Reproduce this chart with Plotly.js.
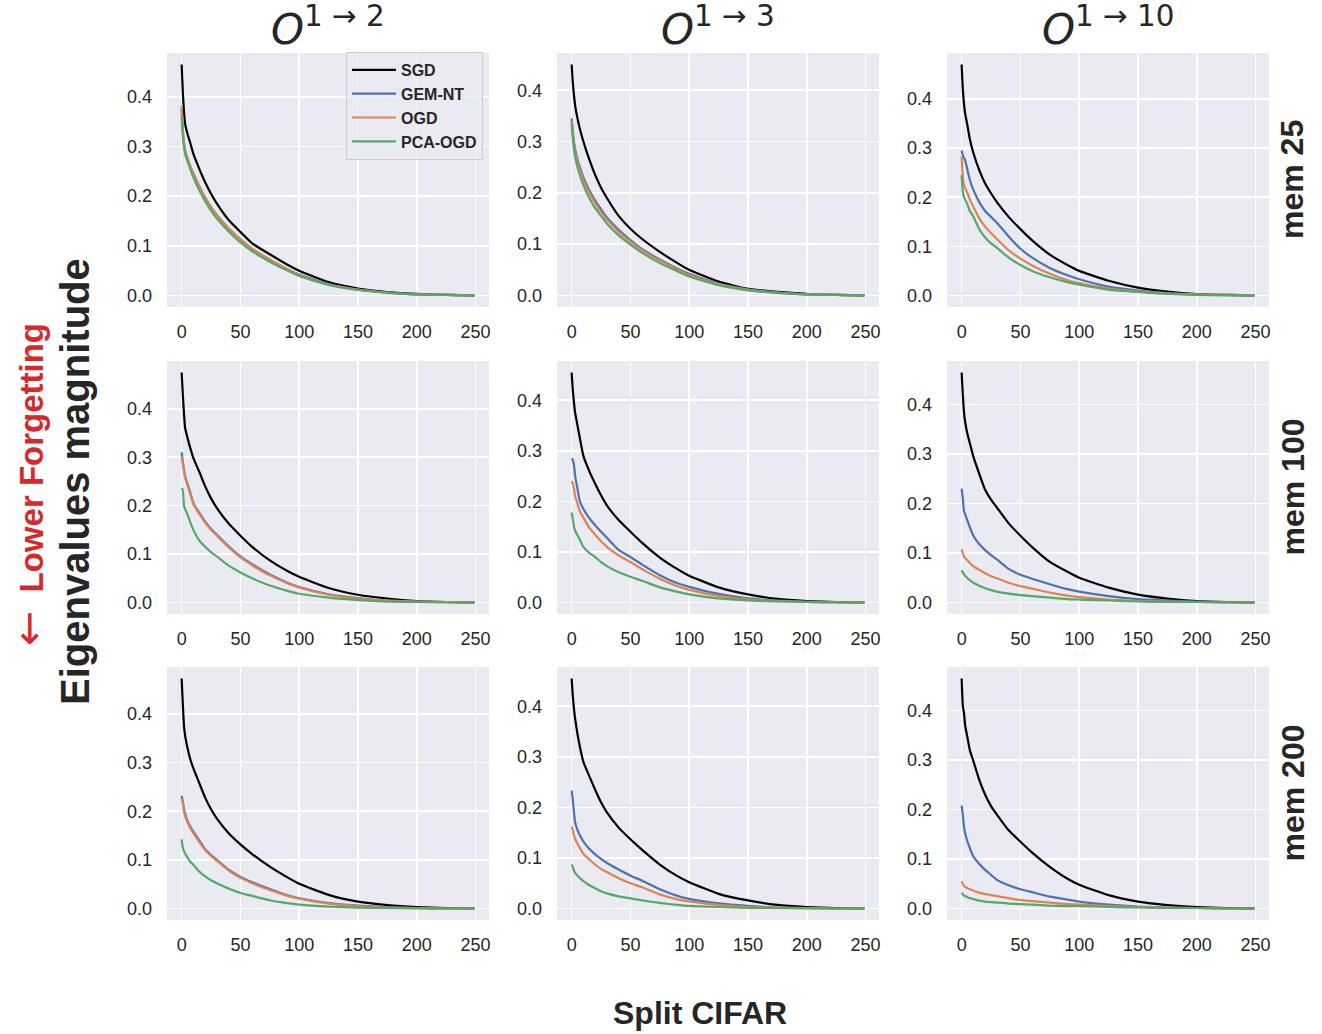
<!DOCTYPE html>
<html><head><meta charset="utf-8">
<script src="https://cdn.plot.ly/plotly-3.0.1.min.js"></script>
<style>body{margin:0;background:#fff}#chart{width:1322px;height:1034px}</style>
</head><body><div id="chart"></div>
<script>
// eigenvalue index
const X = [0,1,2,3,5,7,10,15,20,25,30,40,50,60,75,90,100,125,150,175,200,225,249];

// Row 1: mem 25
const sgd_r1c1 = [0.465,0.41,0.37,0.345,0.325,0.31,0.285,0.255,0.228,0.205,0.185,0.152,0.128,0.105,0.083,0.062,0.05,0.027,0.014,0.007,0.003,0.001,0];
const gem_r1c1 = [0.375,0.33,0.305,0.29,0.275,0.262,0.245,0.22,0.197,0.178,0.162,0.135,0.113,0.094,0.072,0.053,0.042,0.023,0.012,0.006,0.002,0.001,0];
const ogd_r1c1 = [0.382,0.335,0.308,0.292,0.277,0.263,0.245,0.22,0.197,0.178,0.162,0.135,0.113,0.094,0.072,0.053,0.041,0.022,0.012,0.006,0.002,0.001,0];
const pca_r1c1 = [0.36,0.32,0.3,0.285,0.27,0.257,0.238,0.212,0.19,0.171,0.155,0.129,0.107,0.089,0.068,0.05,0.039,0.021,0.011,0.005,0.002,0.001,0];

const sgd_r1c2 = [0.45,0.415,0.39,0.37,0.345,0.325,0.3,0.265,0.235,0.21,0.19,0.155,0.13,0.11,0.085,0.063,0.05,0.027,0.013,0.007,0.003,0.001,0];
const gem_r1c2 = [0.345,0.32,0.3,0.285,0.265,0.25,0.23,0.205,0.185,0.168,0.152,0.128,0.108,0.09,0.07,0.052,0.042,0.023,0.012,0.006,0.002,0.001,0];
const ogd_r1c2 = [0.34,0.315,0.295,0.28,0.26,0.245,0.225,0.2,0.18,0.163,0.148,0.124,0.105,0.088,0.068,0.05,0.04,0.022,0.011,0.005,0.002,0.001,0];
const pca_r1c2 = [0.335,0.305,0.285,0.27,0.25,0.235,0.215,0.19,0.17,0.155,0.14,0.117,0.099,0.083,0.063,0.047,0.037,0.02,0.01,0.005,0.002,0.001,0];

const sgd_r1c3 = [0.47,0.42,0.39,0.37,0.345,0.318,0.29,0.255,0.228,0.208,0.19,0.16,0.135,0.112,0.083,0.062,0.05,0.03,0.016,0.008,0.003,0.001,0];
const gem_r1c3 = [0.295,0.285,0.28,0.275,0.255,0.235,0.215,0.19,0.172,0.16,0.148,0.12,0.095,0.077,0.056,0.041,0.033,0.018,0.01,0.005,0.002,0.001,0];
const ogd_r1c3 = [0.283,0.24,0.225,0.218,0.208,0.195,0.18,0.157,0.14,0.127,0.115,0.092,0.075,0.061,0.044,0.031,0.025,0.014,0.008,0.004,0.002,0.001,0];
const pca_r1c3 = [0.245,0.21,0.2,0.195,0.185,0.172,0.16,0.135,0.118,0.106,0.097,0.077,0.062,0.05,0.037,0.027,0.022,0.012,0.007,0.003,0.001,0,0];

// Row 2: mem 100
const sgd_r2c1 = [0.475,0.43,0.39,0.36,0.34,0.322,0.298,0.27,0.24,0.215,0.195,0.163,0.138,0.115,0.087,0.065,0.053,0.03,0.016,0.008,0.003,0.001,0];
const gem_r2c1 = [0.31,0.29,0.275,0.26,0.245,0.23,0.205,0.185,0.167,0.152,0.14,0.116,0.095,0.079,0.058,0.041,0.032,0.017,0.009,0.004,0.002,0.001,0];
const ogd_r2c1 = [0.302,0.285,0.272,0.258,0.242,0.227,0.203,0.183,0.165,0.15,0.138,0.114,0.093,0.077,0.056,0.04,0.031,0.016,0.008,0.004,0.002,0.001,0];
const pca_r2c1 = [0.236,0.232,0.2,0.193,0.182,0.168,0.15,0.128,0.115,0.104,0.095,0.076,0.062,0.05,0.035,0.024,0.018,0.01,0.005,0.002,0.001,0,0];

const sgd_r2c2 = [0.455,0.42,0.395,0.375,0.35,0.325,0.29,0.26,0.235,0.212,0.192,0.163,0.14,0.118,0.089,0.066,0.053,0.03,0.016,0.007,0.003,0.001,0];
const gem_r2c2 = [0.285,0.282,0.272,0.25,0.225,0.2,0.185,0.167,0.153,0.14,0.128,0.104,0.09,0.075,0.054,0.038,0.031,0.017,0.008,0.004,0.002,0.001,0];
const ogd_r2c2 = [0.24,0.235,0.225,0.21,0.195,0.18,0.168,0.148,0.134,0.121,0.11,0.093,0.08,0.066,0.047,0.032,0.025,0.013,0.006,0.003,0.001,0,0];
const pca_r2c2 = [0.178,0.165,0.15,0.142,0.133,0.124,0.11,0.098,0.09,0.08,0.072,0.06,0.051,0.043,0.03,0.021,0.016,0.008,0.004,0.002,0.001,0,0];

const sgd_r2c3 = [0.465,0.42,0.385,0.365,0.34,0.322,0.295,0.26,0.228,0.208,0.192,0.16,0.135,0.112,0.082,0.062,0.05,0.03,0.016,0.008,0.003,0.001,0];
const gem_r2c3 = [0.23,0.21,0.185,0.178,0.165,0.152,0.135,0.118,0.106,0.096,0.087,0.068,0.056,0.048,0.037,0.027,0.022,0.013,0.007,0.004,0.002,0.001,0];
const ogd_r2c3 = [0.108,0.1,0.093,0.09,0.085,0.08,0.073,0.066,0.059,0.053,0.049,0.04,0.033,0.028,0.02,0.014,0.011,0.006,0.003,0.002,0.001,0,0];
const pca_r2c3 = [0.065,0.061,0.057,0.054,0.049,0.045,0.04,0.034,0.029,0.025,0.022,0.018,0.015,0.013,0.01,0.007,0.006,0.004,0.002,0.001,0.001,0,0];

// Row 3: mem 200
const sgd_r3c1 = [0.473,0.42,0.375,0.355,0.33,0.31,0.288,0.258,0.228,0.204,0.185,0.155,0.132,0.112,0.086,0.064,0.051,0.028,0.014,0.007,0.003,0.001,0];
const gem_r3c1 = [0.232,0.22,0.205,0.195,0.18,0.17,0.158,0.14,0.122,0.11,0.1,0.08,0.065,0.054,0.04,0.027,0.021,0.011,0.006,0.003,0.001,0,0];
const ogd_r3c1 = [0.226,0.215,0.2,0.19,0.177,0.167,0.155,0.137,0.12,0.108,0.098,0.078,0.063,0.052,0.038,0.026,0.02,0.01,0.005,0.002,0.001,0,0];
const pca_r3c1 = [0.142,0.125,0.118,0.113,0.105,0.097,0.09,0.076,0.066,0.058,0.052,0.041,0.032,0.026,0.017,0.011,0.008,0.004,0.002,0.001,0,0,0];

const sgd_r3c2 = [0.455,0.42,0.395,0.375,0.345,0.32,0.29,0.262,0.235,0.21,0.19,0.16,0.137,0.116,0.087,0.064,0.052,0.029,0.016,0.007,0.003,0.001,0];
const gem_r3c2 = [0.233,0.215,0.19,0.17,0.155,0.145,0.133,0.118,0.107,0.098,0.09,0.077,0.065,0.055,0.038,0.025,0.019,0.01,0.005,0.002,0.001,0,0];
const ogd_r3c2 = [0.162,0.155,0.145,0.138,0.128,0.12,0.108,0.097,0.087,0.078,0.072,0.06,0.05,0.042,0.028,0.018,0.014,0.007,0.003,0.002,0.001,0,0];
const pca_r3c2 = [0.087,0.082,0.075,0.07,0.065,0.06,0.054,0.046,0.04,0.034,0.03,0.024,0.02,0.016,0.011,0.007,0.005,0.003,0.001,0.001,0,0,0];

const sgd_r3c3 = [0.465,0.41,0.395,0.37,0.345,0.32,0.298,0.26,0.23,0.207,0.19,0.158,0.135,0.113,0.084,0.06,0.048,0.027,0.014,0.007,0.003,0.001,0];
const gem_r3c3 = [0.208,0.19,0.165,0.152,0.135,0.122,0.105,0.09,0.078,0.068,0.058,0.047,0.039,0.033,0.024,0.018,0.014,0.008,0.004,0.002,0.001,0,0];
const ogd_r3c3 = [0.055,0.05,0.046,0.044,0.041,0.039,0.036,0.032,0.029,0.027,0.025,0.021,0.017,0.015,0.012,0.009,0.008,0.005,0.003,0.002,0.001,0,0];
const pca_r3c3 = [0.032,0.029,0.026,0.025,0.023,0.021,0.019,0.016,0.014,0.013,0.012,0.01,0.009,0.008,0.006,0.005,0.005,0.003,0.002,0.001,0.001,0,0];

const seriesNames = ['SGD','GEM-NT','OGD','PCA-OGD'];
const seriesColors = ['#000000','#4c72b0','#dd8452','#55a868'];
const colSups = ['1 → 2','1 → 3','1 → 10'];
const rowTitles = ['mem 25','mem 100','mem 200'];
const xTicks = [0,50,100,150,200,250];
const yTicks = [0,0.1,0.2,0.3,0.4];

const panels = [
  [[sgd_r1c1,gem_r1c1,ogd_r1c1,pca_r1c1],[sgd_r1c2,gem_r1c2,ogd_r1c2,pca_r1c2],[sgd_r1c3,gem_r1c3,ogd_r1c3,pca_r1c3]],
  [[sgd_r2c1,gem_r2c1,ogd_r2c1,pca_r2c1],[sgd_r2c2,gem_r2c2,ogd_r2c2,pca_r2c2],[sgd_r2c3,gem_r2c3,ogd_r2c3,pca_r2c3]],
  [[sgd_r3c1,gem_r3c1,ogd_r3c1,pca_r3c1],[sgd_r3c2,gem_r3c2,ogd_r3c2,pca_r3c2],[sgd_r3c3,gem_r3c3,ogd_r3c3,pca_r3c3]]
];

const W = 1322, H = 1034;
const colL = [167,557,947], colR = [489,879,1269];
const rowT = [53,361,667], rowB = [307,614,920];
const FONT = 'Liberation Sans, Arial, sans-serif';
const TXT = '#262626';

const traces = [];
const layout = {
  width: W, height: H,
  margin: {l:0, r:0, t:0, b:0},
  paper_bgcolor: '#ffffff',
  plot_bgcolor: '#eaeaf2',
  showlegend: true,
  legend: {
    x: 483/W, xanchor: 'right', y: 1-52/H, yanchor: 'top',
    bgcolor: 'rgba(234,234,242,0.8)', bordercolor: '#cccccc', borderwidth: 1,
    font: {family: FONT, size: 16, color: TXT, weight: 'bold'},
    itemwidth: 44, tracegroupgap: 0
  },
  annotations: []
};

for (let r = 0; r < 3; r++) {
  for (let c = 0; c < 3; c++) {
    const idx = r*3 + c + 1;
    const sx = idx === 1 ? '' : String(idx);
    const series = panels[r][c];
    let ymax = 0;
    series.forEach(s => s.forEach(v => { if (v > ymax) ymax = v; }));
    series.forEach((ys, k) => {
      traces.push({
        type: 'scatter', mode: 'lines', x: X, y: ys,
        name: seriesNames[k],
        showlegend: idx === 1,
        line: {color: seriesColors[k], width: 2.2, shape: 'spline', smoothing: 0.5},
        xaxis: 'x' + sx, yaxis: 'y' + sx, hoverinfo: 'skip'
      });
    });
    layout['xaxis' + sx] = {
      domain: [colL[c]/W, colR[c]/W], anchor: 'y' + sx,
      range: [-12.45, 261.45], tickvals: xTicks, ticktext: xTicks.map(String),
      showgrid: true, gridcolor: '#ffffff', gridwidth: 1.6, zeroline: false,
      showline: false, ticks: '', ticklabelstandoff: 12,
      tickfont: {family: FONT, size: 18, color: TXT}
    };
    layout['yaxis' + sx] = {
      domain: [1 - rowB[r]/H, 1 - rowT[r]/H], anchor: 'x' + sx,
      range: [-0.05*ymax, 1.05*ymax], tickvals: yTicks, ticktext: yTicks.map(v => v.toFixed(1)),
      showgrid: true, gridcolor: '#ffffff', gridwidth: 1.6, zeroline: false,
      showline: false, ticks: '', ticklabelstandoff: 14,
      tickfont: {family: FONT, size: 18, color: TXT}
    };
  }
}

colSups.forEach((s, c) => {
  layout.annotations.push({
    text: '<i>O</i><sup>' + s + '</sup>', xref: 'paper', yref: 'paper',
    x: (colL[c] + colR[c]) / 2 / W, y: 1 - 26/H, xanchor: 'center', yanchor: 'middle',
    showarrow: false, font: {family: 'DejaVu Sans, sans-serif', size: 42, color: TXT}
  });
});
rowTitles.forEach((t, r) => {
  layout.annotations.push({
    text: t, xref: 'paper', yref: 'paper', textangle: -90,
    x: 1292/W, y: 1 - (rowT[r] + rowB[r]) / 2 / H, xanchor: 'center', yanchor: 'middle',
    showarrow: false, font: {family: FONT, size: 32, color: TXT, weight: 'bold'}
  });
});
layout.annotations.push({
  text: 'Eigenvalues magnitude', xref: 'paper', yref: 'paper', textangle: -90,
  x: 75/W, y: 1 - 482/H, xanchor: 'center', yanchor: 'middle', showarrow: false,
  font: {family: FONT, size: 40, color: TXT, weight: 'bold'}
});
layout.annotations.push({
  text: '<span style="font-family:DejaVu Sans;font-weight:normal;font-size:42px">←</span>  Lower Forgetting',
  xref: 'paper', yref: 'paper', textangle: -90,
  x: 28/W, y: 1 - 485/H, xanchor: 'center', yanchor: 'middle', showarrow: false,
  font: {family: FONT, size: 33, color: '#d62a2a', weight: 'bold'}
});
layout.annotations.push({
  text: 'Split CIFAR', xref: 'paper', yref: 'paper',
  x: 700/W, y: 1 - 1013/H, xanchor: 'center', yanchor: 'middle', showarrow: false,
  font: {family: FONT, size: 32, color: TXT, weight: 'bold'}
});

Plotly.newPlot('chart', traces, layout, {staticPlot: true, displayModeBar: false});
</script>
</body></html>
